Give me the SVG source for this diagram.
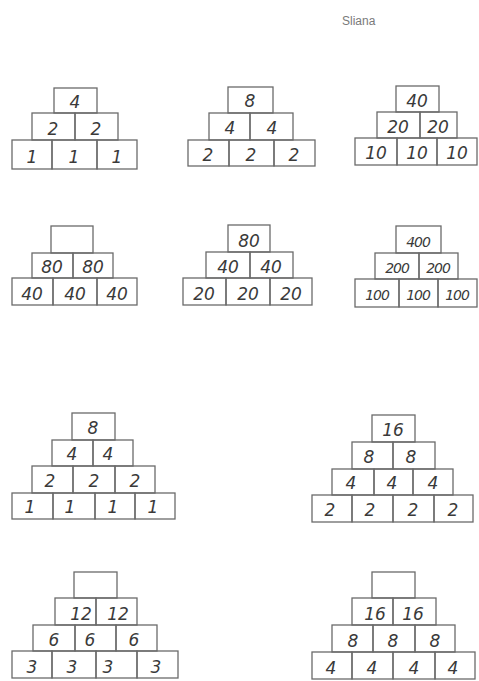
<svg xmlns="http://www.w3.org/2000/svg" width="479" height="681" viewBox="0 0 479 681">
<style>
rect.c{fill:none;stroke:#6a6a6a;stroke-width:1.3}
text.n{font-family:"DejaVu Sans","Liberation Sans",sans-serif;font-size:17px;fill:#3a3a3a;text-anchor:middle;font-style:italic}
text.t{font-size:14px;letter-spacing:-1px}
text.s{font-family:"Liberation Sans",sans-serif;font-size:12px;fill:#7a7a7a}
</style>
<rect width="479" height="681" fill="#fff"/>
<text class="s" x="342" y="25">Sliana</text>
<g id="pyramid1">
<rect class="c" x="54" y="88" width="43" height="25"/>
<rect class="c" x="32" y="113" width="43" height="27"/><rect class="c" x="75" y="113" width="43" height="27"/>
<rect class="c" x="12" y="140" width="40" height="29"/><rect class="c" x="52" y="140" width="45" height="29"/><rect class="c" x="97" y="140" width="40" height="29"/>
<text class="n" x="75" y="108">4</text>
<text class="n" x="53" y="135">2</text><text class="n" x="96" y="135">2</text>
<text class="n" x="32" y="163">1</text><text class="n" x="74" y="163">1</text><text class="n" x="117" y="163">1</text>
</g>
<g id="pyramid2">
<rect class="c" x="228" y="87" width="45" height="26"/>
<rect class="c" x="209" y="113" width="41" height="27"/><rect class="c" x="250" y="113" width="43" height="27"/>
<rect class="c" x="188" y="140" width="41" height="26"/><rect class="c" x="229" y="140" width="45" height="26"/><rect class="c" x="274" y="140" width="41" height="26"/>
<text class="n" x="250" y="107">8</text>
<text class="n" x="230" y="134">4</text><text class="n" x="272" y="134">4</text>
<text class="n" x="208" y="161">2</text><text class="n" x="251" y="161">2</text><text class="n" x="294" y="161">2</text>
</g>
<g id="pyramid3">
<rect class="c" x="396" y="86" width="43" height="26"/>
<rect class="c" x="377" y="112" width="43" height="26"/><rect class="c" x="420" y="112" width="37" height="26"/>
<rect class="c" x="355" y="138" width="42" height="27"/><rect class="c" x="397" y="138" width="40" height="27"/><rect class="c" x="437" y="138" width="40" height="27"/>
<text class="n" x="417" y="107">40</text>
<text class="n" x="398" y="133">20</text><text class="n" x="438" y="133">20</text>
<text class="n" x="376" y="159">10</text><text class="n" x="417" y="159">10</text><text class="n" x="457" y="159">10</text>
</g>
<g id="pyramid4">
<rect class="c" x="51" y="226" width="42" height="27"/>
<rect class="c" x="32" y="253" width="41" height="25"/><rect class="c" x="73" y="253" width="40" height="25"/>
<rect class="c" x="12" y="278" width="41" height="27"/><rect class="c" x="53" y="278" width="44" height="27"/><rect class="c" x="97" y="278" width="40" height="27"/>
<text class="n" x="52" y="273">80</text><text class="n" x="93" y="273">80</text>
<text class="n" x="32" y="300">40</text><text class="n" x="75" y="300">40</text><text class="n" x="117" y="300">40</text>
</g>
<g id="pyramid5">
<rect class="c" x="228" y="225" width="42" height="27"/>
<rect class="c" x="206" y="252" width="44" height="26"/><rect class="c" x="250" y="252" width="43" height="26"/>
<rect class="c" x="183" y="278" width="43" height="27"/><rect class="c" x="226" y="278" width="44" height="27"/><rect class="c" x="270" y="278" width="42" height="27"/>
<text class="n" x="249" y="247">80</text>
<text class="n" x="228" y="273">40</text><text class="n" x="271" y="273">40</text>
<text class="n" x="204" y="300">20</text><text class="n" x="248" y="300">20</text><text class="n" x="291" y="300">20</text>
</g>
<g id="pyramid6">
<rect class="c" x="396" y="226" width="45" height="27"/>
<rect class="c" x="375" y="253" width="44" height="26"/><rect class="c" x="419" y="253" width="39" height="26"/>
<rect class="c" x="355" y="279" width="44" height="28"/><rect class="c" x="399" y="279" width="39" height="28"/><rect class="c" x="438" y="279" width="39" height="28"/>
<text class="n t" x="418" y="247">400</text>
<text class="n t" x="397" y="273">200</text><text class="n t" x="438" y="273">200</text>
<text class="n t" x="377" y="300">100</text><text class="n t" x="418" y="300">100</text><text class="n t" x="457" y="300">100</text>
</g>
<g id="pyramid7">
<rect class="c" x="72" y="413" width="43" height="27"/>
<rect class="c" x="52" y="440" width="41" height="26"/><rect class="c" x="93" y="440" width="40" height="26"/>
<rect class="c" x="32" y="466" width="41" height="27"/><rect class="c" x="73" y="466" width="42" height="27"/><rect class="c" x="115" y="466" width="40" height="27"/>
<rect class="c" x="12" y="493" width="41" height="26"/><rect class="c" x="53" y="493" width="42" height="26"/><rect class="c" x="95" y="493" width="40" height="26"/><rect class="c" x="135" y="493" width="40" height="26"/>
<text class="n" x="93" y="434">8</text>
<text class="n" x="72" y="460">4</text><text class="n" x="108" y="460">4</text>
<text class="n" x="50" y="487">2</text><text class="n" x="94" y="487">2</text><text class="n" x="135" y="487">2</text>
<text class="n" x="30" y="513">1</text><text class="n" x="70" y="513">1</text><text class="n" x="113" y="513">1</text><text class="n" x="153" y="513">1</text>
</g>
<g id="pyramid8">
<rect class="c" x="372" y="415" width="43" height="27"/>
<rect class="c" x="352" y="442" width="41" height="27"/><rect class="c" x="393" y="442" width="42" height="27"/>
<rect class="c" x="332" y="469" width="42" height="26"/><rect class="c" x="374" y="469" width="39" height="26"/><rect class="c" x="413" y="469" width="40" height="26"/>
<rect class="c" x="312" y="495" width="40" height="27"/><rect class="c" x="352" y="495" width="41" height="27"/><rect class="c" x="393" y="495" width="41" height="27"/><rect class="c" x="434" y="495" width="39" height="27"/>
<text class="n" x="393" y="436">16</text>
<text class="n" x="369" y="463">8</text><text class="n" x="411" y="463">8</text>
<text class="n" x="351" y="489">4</text><text class="n" x="392" y="489">4</text><text class="n" x="433" y="489">4</text>
<text class="n" x="330" y="516">2</text><text class="n" x="370" y="516">2</text><text class="n" x="413" y="516">2</text><text class="n" x="453" y="516">2</text>
</g>
<g id="pyramid9">
<rect class="c" x="74" y="572" width="43" height="26"/>
<rect class="c" x="55" y="598" width="41" height="27"/><rect class="c" x="96" y="598" width="41" height="27"/>
<rect class="c" x="33" y="625" width="42" height="26"/><rect class="c" x="75" y="625" width="41" height="26"/><rect class="c" x="116" y="625" width="41" height="26"/>
<rect class="c" x="12" y="651" width="40" height="27"/><rect class="c" x="52" y="651" width="44" height="27"/><rect class="c" x="96" y="651" width="41" height="27"/><rect class="c" x="137" y="651" width="41" height="27"/>
<text class="n" x="81" y="620">12</text><text class="n" x="118" y="620">12</text>
<text class="n" x="54" y="646">6</text><text class="n" x="90" y="646">6</text><text class="n" x="134" y="646">6</text>
<text class="n" x="32" y="673">3</text><text class="n" x="72" y="673">3</text><text class="n" x="108" y="673">3</text><text class="n" x="156" y="673">3</text>
</g>
<g id="pyramid10">
<rect class="c" x="372" y="572" width="43" height="26"/>
<rect class="c" x="352" y="598" width="41" height="27"/><rect class="c" x="393" y="598" width="43" height="27"/>
<rect class="c" x="332" y="625" width="41" height="27"/><rect class="c" x="373" y="625" width="42" height="27"/><rect class="c" x="415" y="625" width="40" height="27"/>
<rect class="c" x="312" y="652" width="40" height="27"/><rect class="c" x="352" y="652" width="41" height="27"/><rect class="c" x="393" y="652" width="42" height="27"/><rect class="c" x="435" y="652" width="40" height="27"/>
<text class="n" x="375" y="620">16</text><text class="n" x="413" y="620">16</text>
<text class="n" x="353" y="647">8</text><text class="n" x="393" y="647">8</text><text class="n" x="435" y="647">8</text>
<text class="n" x="331" y="674">4</text><text class="n" x="372" y="674">4</text><text class="n" x="414" y="674">4</text><text class="n" x="453" y="674">4</text>
</g>
</svg>
